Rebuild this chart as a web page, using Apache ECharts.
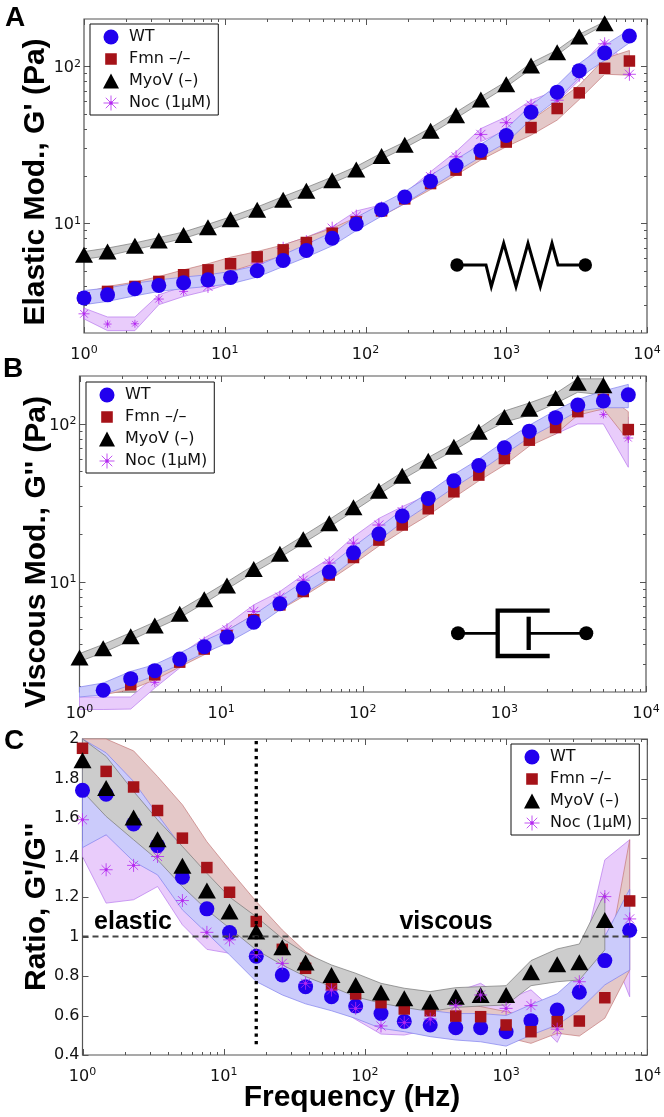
<!DOCTYPE html>
<html><head><meta charset="utf-8">
<style>html,body{margin:0;padding:0;background:#fff}#c{width:664px;height:1117px}</style>
<script src="https://cdn.jsdelivr.net/npm/echarts@6/dist/echarts.min.js"></script>
</head><body><div id="c"></div>
<script>
var freqs=[1,1.47,2.3,3.4,5.1,7.6,11,17,26,38,58,86,130,190,290,440,660,1000,1500,2300,3300,5000,7500];
var seriesNames=['WT','Fmn –/–','MyoV (–)','Noc (1µM)'];

// Panel A: elastic modulus G' (Pa)
var wtA=[3.34,3.5,3.83,4.02,4.18,4.36,4.52,4.98,5.79,6.7,8.03,9.9,12.2,14.7,18.5,23.3,29.1,36.2,51,68.4,93.8,121.6,156];
var wtAHi=[3.73,3.87,4.15,4.36,4.54,4.7,4.93,5.38,6.29,7.35,8.76,10.9,13.3,15.9,20.2,25.5,31.9,40.1,56.5,75.7,104,136,171];
var wtALo=[3.03,3.18,3.45,3.68,3.83,3.96,4.11,4.54,5.3,6.08,7.18,8.98,11.1,13.4,16.9,21.3,26.5,32.6,45.9,61.4,84.7,109,141];
var fmnA=[3.35,3.68,3.96,4.26,4.7,5.05,5.52,6.11,6.77,7.54,8.64,10.2,12,14.3,17.9,21.8,27.6,32.9,40.7,53.8,67.7,97.1,108];
var fmnAHi=[3.59,3.96,4.22,4.58,5.05,5.52,6.08,6.61,7.28,8.15,9.29,10.9,12.9,15.4,19.3,23.5,29.9,36.4,45.4,59.4,75.7,112,126];
var fmnALo=[3.03,3.42,3.73,3.96,4.26,4.58,4.93,5.57,6.2,6.93,8.03,9.5,11.1,13.3,16.4,20.3,25.3,30.7,36.4,45.4,61.4,89,87.7];
var myoA=[6.29,6.6,7.18,7.76,8.43,9.43,10.6,12.2,14.1,16.1,18.8,22,26.8,31.6,38.8,48.8,61.4,76.9,101,123,155,188,null];
var myoAHi=[6.6,6.95,7.5,8.1,8.8,9.85,11,12.7,14.8,16.9,19.7,23,28,33,40.5,51,64,80,105,127,160,192,null];
var myoALo=[5.9,6.2,6.8,7.35,8,8.95,10.1,11.6,13.4,15.3,18,21,25.6,30.2,37,46.6,58.6,74,96,118,150,184,null];
var nocA=[2.65,2.28,2.29,3.29,3.68,3.96,4.58,5.57,6.93,7.64,9.3,11.1,12.5,14.8,19.8,26.5,36.8,43.7,56.5,60.8,87.7,139,88.9];
var nocAHi=[2.88,2.53,2.53,3.5,3.96,4.26,5.18,6.14,7.28,8.15,9.5,11.98,13.1,15.5,21.3,28.6,40.1,47.6,60.8,70.3,99,147,99];
var nocALo=[2.46,2.07,2.07,3.03,3.42,3.73,4.15,5.05,6.29,6.93,7.84,10,11.6,13.7,18.4,24.1,33.1,39.2,51.3,59.4,81.5,117,86];

// Panel B: viscous modulus G'' (Pa)
var wtB=[null,2.05,2.43,2.73,3.23,3.87,4.45,5.53,7.23,9.08,11.5,15.2,20,26,33.6,43.5,54.3,70.2,89.5,109,131,139,152];
var wtBHi=[2.15,2.28,2.7,2.98,3.53,4.22,4.9,6.16,7.96,10,12.6,16.6,21.9,28.4,36.6,47.6,59.5,77.3,97.6,121,142,161,177];
var wtBLo=[1.86,1.92,2.22,2.54,2.98,3.53,4.08,5.07,6.62,8.32,10.5,13.8,18.3,23.7,30.5,39.4,49.5,64,81.6,100,120,126,126];
var fmnB=[null,null,2.22,2.57,3.09,3.74,4.54,5.73,7.12,8.65,11,14.2,18.3,22.8,28.9,37,47.2,60.1,78.5,94.4,119,142,91.6];
var fmnBHi=[null,2.12,2.42,2.79,3.36,4.08,4.9,6.16,7.66,9.3,11.9,15.5,20,24.9,31.5,40.2,51.2,65.3,85.8,103,127,155,119];
var fmnBLo=[null,1.92,2.07,2.39,2.88,3.44,4.28,5.33,6.62,8.04,10.2,12.9,16.8,20.9,26.3,34,43.4,54.6,72,85.8,113,124,78];
var myoB=[3.31,3.79,4.5,5.27,6.25,7.73,9.44,12,15,18.5,23.4,29.5,37.6,46.7,58.1,71.2,88.6,110,124,145,181,175,null];
var myoBHi=[3.5,4,4.75,5.55,6.6,8.15,9.95,12.7,15.8,19.5,24.7,31.1,39.6,49.2,61,75,93,120,135,155,192,192,null];
var myoBLo=[3.12,3.55,4.25,5,5.9,7.3,8.95,11.4,14.2,17.5,22.1,27.9,35.6,44.2,55,67.5,84,102,113,134,158,152,null];
var nocB=[null,null,null,2.3,3.12,4.08,4.95,6.47,7.96,10.2,13.1,17.5,22.8,27.7,32.8,41.8,52,64.7,84.4,101,121,114,81];
var nocBHi=[1.86,1.86,1.86,2.51,3.44,4.39,5.33,7.12,8.65,11,14,19.2,25.1,29.8,35.3,45.7,57.3,71.2,93,113,121,122,110];
var nocBLo=[1.55,1.55,1.56,2.12,2.84,3.7,4.39,5.45,7.12,9.3,11.9,15.9,20.7,24.5,29,37.9,48.3,58.8,76.6,85.8,99.5,99.5,52.9];

// Panel C: ratio G'/G''
var wtC=[1.74,1.72,1.57,1.46,1.3,1.14,1.02,0.9,0.805,0.746,0.695,0.648,0.61,0.57,0.552,0.538,0.538,0.518,0.574,0.628,0.718,0.878,1.032];
var wtCHi=[2,1.93,1.785,1.617,1.448,1.295,1.135,1.025,0.93,0.85,0.79,0.735,0.69,0.65,0.625,0.61,0.61,0.6,0.655,0.71,0.81,1,1.24];
var wtCLo=[1.45,1.515,1.38,1.312,1.135,1.017,0.907,0.772,0.704,0.659,0.624,0.585,0.535,0.518,0.493,0.476,0.467,0.445,0.501,0.552,0.628,0.755,0.83];
var fmnC=[1.953,1.836,1.757,1.638,1.498,1.349,1.224,1.076,0.935,0.839,0.755,0.709,0.665,0.633,0.624,0.597,0.594,0.552,0.518,0.569,0.572,0.69,1.18];
var fmnCHi=[2,2,1.94,1.81,1.667,1.48,1.338,1.177,1.033,0.923,0.84,0.775,0.73,0.69,0.685,0.66,0.645,0.62,0.59,0.64,0.66,0.8,1.49];
var fmnCLo=[1.75,1.66,1.56,1.45,1.33,1.21,1.1,0.975,0.85,0.77,0.71,0.66,0.6,0.58,0.56,0.54,0.54,0.49,0.459,0.51,0.496,0.586,0.83];
var myoC=[1.892,1.752,1.603,1.493,1.358,1.233,1.126,1.025,0.945,0.868,0.805,0.755,0.716,0.687,0.67,0.695,0.704,0.704,0.819,0.859,0.87,1.084,null];
var myoCHi=[2,1.912,1.735,1.591,1.456,1.32,1.2,1.1,0.99,0.915,0.856,0.814,0.763,0.738,0.721,0.741,0.746,0.751,0.878,0.937,0.962,1.22,null];
var myoCLo=[1.735,1.608,1.49,1.388,1.253,1.135,1.042,0.932,0.856,0.797,0.746,0.695,0.662,0.641,0.62,0.641,0.648,0.653,0.751,0.771,0.78,0.932,null];
var nocC=[1.591,1.338,1.36,1.405,1.182,1.021,0.983,0.91,0.864,0.763,0.729,0.636,0.547,0.564,0.582,0.65,0.704,0.636,0.65,0.531,0.771,1.202,1.089];
var nocCHi=[1.48,1.515,1.52,1.52,1.3,1.12,1.07,1,0.94,0.84,0.8,0.7,0.6,0.63,0.64,0.72,0.763,0.68,0.73,0.61,0.83,1.388,1.49];
var nocCLo=[1.405,1.169,1.186,1.253,1.059,0.935,0.915,0.83,0.79,0.7,0.66,0.58,0.506,0.501,0.53,0.594,0.645,0.589,0.6,0.464,0.7,1.016,0.695];

// Reference lines (panel C)
var unityX=[1,7500], unityY=[1,1];
var crossX=[17,17], crossY=[1.99,0.45];

// Axis ticks
var xMajor=[1,10,100,1000,10000];
var xMinor=[2,3,4,5,6,7,8,9,20,30,40,50,60,70,80,90,200,300,400,500,600,700,800,900,2000,3000,4000,5000,6000,7000,8000,9000];
var yMajorLog=[10,100];
var yMinorLog=[3,4,5,6,7,8,9,20,30,40,50,60,70,80,90];
var yMajorLin=[0.4,0.6,0.8,1,1.2,1.4,1.6,1.8,2];

var COL={wt:'#2200ee',fmn:'#a51218',myo:'#000000',noc:'#b428f0'};
var BAND={wt:['#cbcbfb','#8080ee'],fmn:['#e4c8c8','#c47878'],myo:['#cccccc','#777777'],noc:['#e9ccfb','#b878ee']};
var ASTER='path://M0 -10L0 10M-10 0L10 0M-7 -7L7 7M-7 7L7 -7M-1.8 0A1.8 1.8 0 1 0 1.8 0A1.8 1.8 0 1 0 -1.8 0Z';
var RECT_ICON='path://M0 0L0 0ZM15 15L15 15ZM1.7 1.7L13.3 1.7L13.3 13.3L1.7 13.3Z';
var TRI_ICON='triangle';
var AXC='#555';

function band(g,hi,lo,key){
  return {type:'custom',xAxisIndex:g,yAxisIndex:g,silent:true,clip:false,z:2,
    data:freqs.map(function(f,i){return [f,hi[i]==null?lo[i]:hi[i],lo[i]];}),
    encode:{x:0,y:1},
    renderItem:function(p,api){
      if(p.dataIndex!==0)return null;
      var top=[],bot=[];
      freqs.forEach(function(f,i){
        if(hi[i]==null||lo[i]==null)return;
        top.push(api.coord([f,hi[i]]));
        bot.unshift(api.coord([f,lo[i]]));
      });
      return {type:'polygon',shape:{points:top.concat(bot)},style:{fill:BAND[key][0],stroke:BAND[key][1],lineWidth:0.7}};
    }};
}
function pts(v){var o=[];freqs.forEach(function(f,i){if(v[i]!=null)o.push([f,v[i]]);});return o;}
function marks(g,key,vals,smaller){
  var cfg={wt:[seriesNames[0],'circle',15],fmn:[seriesNames[1],'rect',11.5],myo:[seriesNames[2],'triangle',[18,16]],noc:[seriesNames[3],ASTER,13]}[key];
  var it=key==='noc'?{color:COL.noc,borderColor:COL.noc,borderWidth:0.8,opacity:1}:{color:COL[key],opacity:1};
  var size=cfg[2];
  if(smaller){size=function(v){var i=freqs.indexOf(v[0]);return smaller[i]||cfg[2];};}
  return {type:'scatter',name:cfg[0],xAxisIndex:g,yAxisIndex:g,symbol:cfg[1],symbolSize:size,clip:false,z:3,silent:true,
    itemStyle:it,data:pts(vals)};
}
function ticks(g,yMajor,yMinor,yMin){
  return {type:'custom',xAxisIndex:g,yAxisIndex:g,silent:true,clip:false,z:1,data:[[1,yMin]],encode:{x:0,y:1},
    renderItem:function(p,api){
      var cs=p.coordSys,ch=[];
      function seg(x1,y1,x2,y2){ch.push({type:'line',shape:{x1:x1,y1:y1,x2:x2,y2:y2},style:{stroke:AXC,lineWidth:1}});}
      function xt(v,l){var x=Math.round(api.coord([v,yMin])[0])+0.5;seg(x,cs.y+cs.height,x,cs.y+cs.height-l);seg(x,cs.y,x,cs.y+l);}
      function yt(v,l){var y=Math.round(api.coord([1,v])[1])+0.5;seg(cs.x,y,cs.x+l,y);seg(cs.x+cs.width,y,cs.x+cs.width-l,y);}
      xMajor.forEach(function(v){xt(v,6);});
      xMinor.forEach(function(v){xt(v,3);});
      yMajor.forEach(function(v){yt(v,6);});
      yMinor.forEach(function(v){yt(v,3);});
      return {type:'group',children:ch};
    }};
}
function powLabel(v){
  var l=Math.log10(v),r=Math.round(l);
  if(Math.abs(l-r)>1e-6)return '';
  return '{a|10}{b|'+r+'}';
}
var RICH={a:{fontSize:16,fontFamily:'DejaVu Sans',color:'#111'},b:{fontSize:11,fontFamily:'DejaVu Sans',color:'#111',padding:[0,0,9,0]}};
function xAx(g){return {type:'log',logBase:10,gridIndex:g,z:6,min:1,max:10000,axisLine:{show:false},axisTick:{show:false},splitLine:{show:false},minorSplitLine:{show:false},
  axisLabel:{margin:12,formatter:powLabel,rich:RICH,showMinLabel:true,showMaxLabel:true,hideOverlap:false}};}
function yLog(g){return {type:'log',logBase:10,gridIndex:g,min:2,max:200,axisLine:{show:false},axisTick:{show:false},splitLine:{show:false},
  axisLabel:{margin:3,formatter:powLabel,rich:RICH,padding:[4,0,0,0]}};}
function legend(l,t){
  return {left:l,top:t,orient:'vertical',selectedMode:false,backgroundColor:'#fff',borderColor:'#111',borderWidth:1,borderRadius:0,
    padding:[5,7,4,13],itemWidth:16,itemHeight:15,itemGap:6,textStyle:{fontFamily:'DejaVu Sans',fontSize:16,color:'#111',padding:[0,0,0,5]},
    data:[{name:seriesNames[0],icon:'circle'},{name:seriesNames[1],icon:RECT_ICON},{name:seriesNames[2],icon:TRI_ICON},{name:seriesNames[3],icon:ASTER,itemStyle:{color:COL.noc,borderColor:COL.noc,borderWidth:0.8}}],z:20};
}
function txt(s,x,y,size,rot){
  return {type:'text',x:x,y:y,rotation:rot?Math.PI/2:0,silent:true,style:{text:s,fill:'#000',font:'bold '+size+'px "Liberation Sans"',textAlign:'center',textVerticalAlign:'middle'}};
}
function poly(p,w){return {type:'polyline',silent:true,shape:{points:p},style:{stroke:'#000',lineWidth:w,fill:null,lineJoin:'miter'}};}
function dot(x,y,r){return {type:'circle',silent:true,shape:{cx:x,cy:y,r:r},style:{fill:'#000'}};}

var series=[
 ticks(0,yMajorLog,yMinorLog,2),ticks(1,yMajorLog,yMinorLog,2),ticks(2,yMajorLin,[],0.4),
 band(0,nocAHi,nocALo,'noc'),band(0,fmnAHi,fmnALo,'fmn'),band(0,myoAHi,myoALo,'myo'),band(0,wtAHi,wtALo,'wt'),
 marks(0,'noc',nocA,{0:11,1:8,2:8,3:10,4:9}),marks(0,'fmn',fmnA),marks(0,'myo',myoA),marks(0,'wt',wtA),
 band(1,nocBHi,nocBLo,'noc'),band(1,fmnBHi,fmnBLo,'fmn'),band(1,myoBHi,myoBLo,'myo'),band(1,wtBHi,wtBLo,'wt'),
 marks(1,'noc',nocB,{3:9,21:8,22:10}),marks(1,'fmn',fmnB),marks(1,'myo',myoB),marks(1,'wt',wtB),
 band(2,nocCHi,nocCLo,'noc'),band(2,fmnCHi,fmnCLo,'fmn'),band(2,wtCHi,wtCLo,'wt'),band(2,myoCHi,myoCLo,'myo'),
 marks(2,'wt',wtC),marks(2,'fmn',fmnC),marks(2,'myo',myoC),marks(2,'noc',nocC),
 {type:'line',xAxisIndex:2,yAxisIndex:2,showSymbol:false,silent:true,clip:false,z:4,lineStyle:{color:'#444',width:2,type:[6,4]},data:[[unityX[0],unityY[0]],[unityX[1],unityY[1]]]},
 {type:'line',xAxisIndex:2,yAxisIndex:2,showSymbol:false,silent:true,clip:false,z:4,lineStyle:{color:'#000',width:3.3,type:[3.3,4.2]},data:[[crossX[0],crossY[0]],[crossX[1],crossY[1]]]}
];

var option={
 animation:false,backgroundColor:'#fff',
 textStyle:{fontFamily:'DejaVu Sans'},
 grid:[
  {left:84,top:19,width:563,height:314,show:true,borderColor:AXC,borderWidth:1.2,backgroundColor:'transparent',containLabel:false},
  {left:79.5,top:376,width:566.5,height:316,show:true,borderColor:AXC,borderWidth:1.2,backgroundColor:'transparent',containLabel:false},
  {left:82.5,top:739,width:565.5,height:316,show:true,borderColor:AXC,borderWidth:1.2,backgroundColor:'transparent',containLabel:false}
 ],
 xAxis:[xAx(0),xAx(1),xAx(2)],
 yAxis:[yLog(0),yLog(1),{type:'value',gridIndex:2,min:0.4,max:2,interval:0.2,axisLine:{show:false},axisTick:{show:false},splitLine:{show:false},
   axisLabel:{margin:3,fontSize:16,fontFamily:'DejaVu Sans',color:'#111'}}],
 legend:[legend(90,24),legend(86,382),legend(511,744)],
 series:series,
 graphic:{elements:[
  txt('A',15,18,28),txt('B',13,369,28),txt('C',14,741,28),
  txt("Elastic Mod., G' (Pa)",36,182,30,true),
  txt("Viscous Mod., G'' (Pa)",37,552,30,true),
  txt("Ratio, G'/G''",37,907,30,true),
  txt('Frequency (Hz)',352,1098,30),
  txt('elastic',133,922,25),txt('viscous',446,922,25),
  poly([[457,265],[486,265],[491.3,286.7],[503.7,243.3],[516,286.7],[528,243.3],[540.3,286.7],[552,243.3],[558,265],[585.3,265]],3),
  dot(457,265,6.7),dot(585.3,265,6.7),
  poly([[458,633.3],[497.7,633.3]],2.7),
  poly([[549.7,610.7],[497.7,610.7],[497.7,656],[549.7,656]],4.3),
  poly([[528.7,616.7],[528.7,650]],4.3),
  poly([[528.7,633.3],[586.3,633.3]],2.7),
  dot(458,633.3,7),dot(586.3,633.3,7)
 ]}
};
var chart=echarts.init(document.getElementById('c'),null,{renderer:'canvas',width:664,height:1117});
chart.setOption(option);
</script></body></html>
